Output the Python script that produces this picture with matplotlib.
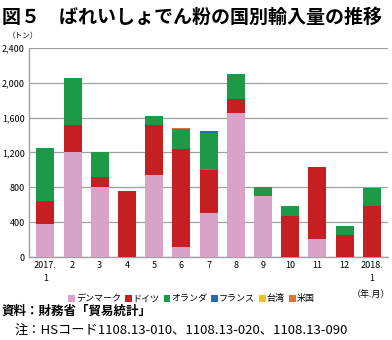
import numpy as np
import matplotlib.pyplot as plt

plt.rcParams['font.family'] = ['Noto Sans CJK JP', 'DejaVu Sans']

# 月別輸入量（トン）
months = ['2017.\n1', '2', '3', '4', '5', '6', '7', '8', '9', '10', '11', '12', '2018.\n1']
denmark = [376, 1200, 800, 0, 937, 110, 500, 1655, 700, 0, 210, 0, 0]
germany = [270, 320, 115, 755, 584, 1125, 500, 160, 0, 476, 820, 257, 588]
netherlands = [600, 530, 285, 0, 103, 235, 420, 285, 100, 108, 0, 104, 207]
france = [0, 0, 0, 0, 0, 0, 30, 0, 0, 0, 0, 0, 0]
taiwan = [0, 0, 0, 0, 0, 0, 0, 0, 0, 0, 0, 0, 0]
usa = [0, 0, 0, 8, 0, 10, 0, 0, 0, 0, 0, 0, 0]

series = [
    ('デンマーク', denmark, '#d9a2c9'),
    ('ドイツ', germany, '#c61f22'),
    ('オランダ', netherlands, '#1c9a47'),
    ('フランス', france, '#1f6db3'),
    ('台湾', taiwan, '#efc01f'),
    ('米国', usa, '#e2702e'),
]

fig = plt.figure(figsize=(3.92, 3.4), dpi=100)
ax = fig.add_axes([0.074, 0.244, 0.916, 0.615])

x = np.arange(len(months))
bottom = np.zeros(len(months))
for name, vals, color in series:
    vals = np.array(vals, dtype=float)
    ax.bar(x, vals, bottom=bottom, width=0.66, color=color, label=name, zorder=3)
    bottom += vals

ax.set_ylim(0, 2400)
ax.set_xlim(-0.6, len(months) - 0.4)
ax.set_yticks(np.arange(0, 2401, 400))
ax.set_yticklabels([f'{v:,}' for v in range(0, 2401, 400)], fontsize=6.5)
ax.set_xticks(x)
ax.set_xticklabels(months, fontsize=6.5, linespacing=1.5)
ax.tick_params(length=0, pad=3)
ax.grid(axis='y', color='#a0a0a0', linewidth=0.9, zorder=0)
for s in ['top', 'right']:
    ax.spines[s].set_visible(False)
for s in ['left', 'bottom']:
    ax.spines[s].set_color('#a0a0a0')
    ax.spines[s].set_linewidth(1.0)

leg = fig.legend(loc='center', bbox_to_anchor=(0.488, 0.121), ncol=6, frameon=False,
                 fontsize=6.5, handlelength=0.75, handleheight=0.75, handletextpad=0.1,
                 columnspacing=0.45)

fig.text(0.005, 0.95, '図５　ばれいしょでん粉の国別輸入量の推移', fontsize=13.7,
         fontweight='bold', va='center', ha='left')
fig.text(0.02, 0.893, '（トン）', fontsize=5.5, va='center', ha='left')
fig.text(0.995, 0.133, '（年.月）', fontsize=6.5, va='center', ha='right')
fig.text(0.005, 0.085, '資料：財務省「貿易統計」', fontsize=9, fontweight='bold',
         va='center', ha='left')
fig.text(0.036, 0.025, '注：HSコード1108.13-010、1108.13-020、1108.13-090', fontsize=9.5,
         va='center', ha='left')

fig.savefig('out.png', dpi=100)
